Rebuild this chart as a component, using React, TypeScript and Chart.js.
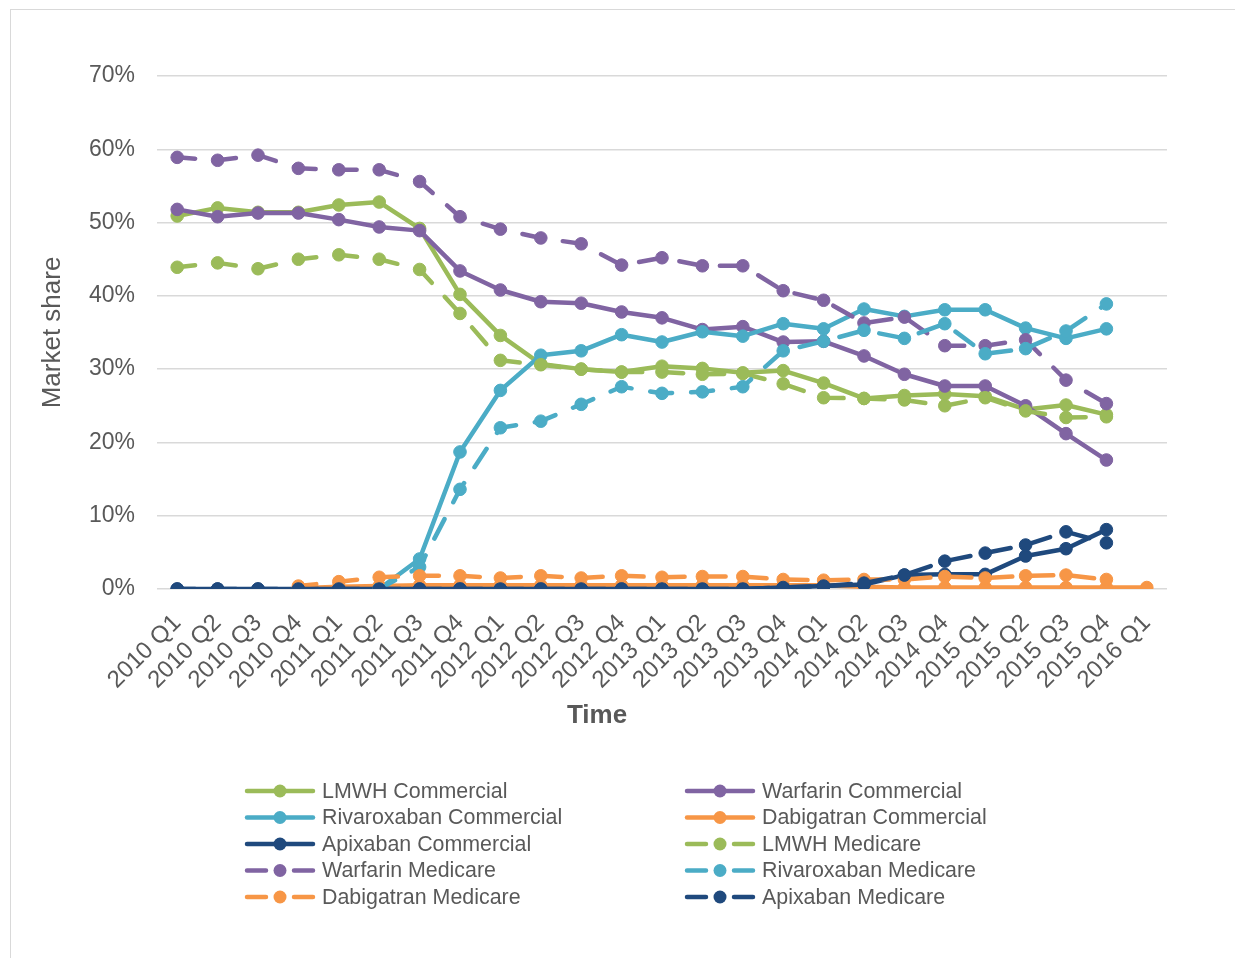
import React, { useEffect, useRef } from 'react';
import { Chart, registerables } from 'chart.js';

Chart.register(...registerables);

const FONT = '"Liberation Sans", Arial, Helvetica, sans-serif';
const TEXT = '#595959';

const quarters = [
  '2010 Q1', '2010 Q2', '2010 Q3', '2010 Q4',
  '2011 Q1', '2011 Q2', '2011 Q3', '2011 Q4',
  '2012 Q1', '2012 Q2', '2012 Q3', '2012 Q4',
  '2013 Q1', '2013 Q2', '2013 Q3', '2013 Q4',
  '2014 Q1', '2014 Q2', '2014 Q3', '2014 Q4',
  '2015 Q1', '2015 Q2', '2015 Q3', '2015 Q4',
  '2016 Q1',
];

const xAxisTitle = 'Time';
const yAxisTitle = 'Market share';

const lmwhCommercial = [50.9, 52.0, 51.4, 51.4, 52.4, 52.8, 49.2, 40.2, 34.6, 30.7, 30.0, 29.6, 30.4, 30.1, 29.5, 29.8, 28.1, 26.0, 26.4, 26.6, 26.3, 24.5, 25.1, 23.8, null];
const warfarinCommercial = [51.8, 50.8, 51.3, 51.3, 50.4, 49.4, 48.9, 43.4, 40.8, 39.2, 39.0, 37.8, 37.0, 35.4, 35.8, 33.7, 33.8, 31.8, 29.3, 27.7, 27.7, 25.0, 21.2, 17.6, null];
const rivaroxabanCommercial = [null, null, null, null, null, 0, 4.1, 18.7, 27.1, 31.9, 32.5, 34.7, 33.7, 35.1, 34.5, 36.2, 35.5, 38.2, 37.2, 38.1, 38.1, 35.6, 34.2, 35.5, null];
const dabigatranCommercial = [null, null, null, 0.1, 0.3, 0.4, 0.5, 0.5, 0.5, 0.5, 0.5, 0.5, 0.5, 0.5, 0.5, 0.5, 0.5, 0.3, 0.2, 0.2, 0.2, 0.2, 0.2, 0.2, 0.2];
const apixabanCommercial = [0, 0, 0, 0, 0, 0, 0, 0, 0, 0, 0, 0, 0, 0, 0, 0.2, 0.4, 0.6, 1.9, 2.0, 2.0, 4.5, 5.5, 8.1, null];
const lmwhMedicare = [43.9, 44.5, 43.7, 45.0, 45.6, 45.0, 43.6, 37.6, 31.2, 30.6, 30.0, 29.6, 29.6, 29.3, 29.4, 28.0, 26.1, 26.0, 25.8, 25.0, 26.1, 24.3, 23.4, 23.5, null];
const warfarinMedicare = [58.9, 58.5, 59.2, 57.4, 57.2, 57.2, 55.6, 50.8, 49.1, 47.9, 47.1, 44.2, 45.2, 44.1, 44.1, 40.7, 39.4, 36.3, 37.1, 33.2, 33.2, 34.0, 28.5, 25.3, null];
const rivaroxabanMedicare = [null, null, null, null, null, 0, 3.0, 13.6, 22.0, 22.9, 25.2, 27.6, 26.7, 26.9, 27.6, 32.5, 33.8, 35.3, 34.2, 36.2, 32.1, 32.8, 35.2, 38.9, null];
const dabigatranMedicare = [null, null, null, 0.4, 1.0, 1.6, 1.8, 1.8, 1.5, 1.8, 1.5, 1.8, 1.6, 1.7, 1.7, 1.3, 1.2, 1.3, 1.3, 1.7, 1.5, 1.8, 1.9, 1.3, null];
const apixabanMedicare = [0, 0, 0, 0, 0, 0, 0, 0, 0, 0, 0, 0, 0, 0, 0, 0.2, 0.4, 0.8, 1.9, 3.8, 4.9, 6.0, 7.8, 6.3, null];

const GREEN = '#9BBB59';
const PURPLE = '#8064A2';
const CYAN = '#4BACC6';
const ORANGE = '#F79646';
const NAVY = '#1F497D';

const seriesDefs: { label: string; data: (number | null)[]; color: string; dashed: boolean }[] = [
  { label: 'LMWH Commercial', data: lmwhCommercial, color: GREEN, dashed: false },
  { label: 'Warfarin Commercial', data: warfarinCommercial, color: PURPLE, dashed: false },
  { label: 'Rivaroxaban Commercial', data: rivaroxabanCommercial, color: CYAN, dashed: false },
  { label: 'Dabigatran Commercial', data: dabigatranCommercial, color: ORANGE, dashed: false },
  { label: 'Apixaban Commercial', data: apixabanCommercial, color: NAVY, dashed: false },
  { label: 'LMWH Medicare', data: lmwhMedicare, color: GREEN, dashed: true },
  { label: 'Warfarin Medicare', data: warfarinMedicare, color: PURPLE, dashed: true },
  { label: 'Rivaroxaban Medicare', data: rivaroxabanMedicare, color: CYAN, dashed: true },
  { label: 'Dabigatran Medicare', data: dabigatranMedicare, color: ORANGE, dashed: true },
  { label: 'Apixaban Medicare', data: apixabanMedicare, color: NAVY, dashed: true },
];

const LINE_W = 4.5;
const DASH = [22, 19];

const legendPlugin = {
  id: 'gridLegend',
  afterDraw(chart: any) {
    const ctx: CanvasRenderingContext2D = chart.ctx;
    // x-axis title (Excel places it left of the plot centre)
    ctx.save();
    ctx.fillStyle = TEXT;
    ctx.font = `bold 26px ${FONT}`;
    ctx.textAlign = 'center';
    ctx.textBaseline = 'middle';
    ctx.fillText(xAxisTitle, 597, 716);
    ctx.restore();

    chart.data.datasets.forEach((ds: any, i: number) => {
      const col = i % 2;
      const row = Math.floor(i / 2);
      const x0 = col === 0 ? 245 : 685;
      const y = 791 + row * 26.5;
      ctx.save();
      ctx.strokeStyle = ds.borderColor;
      ctx.lineWidth = LINE_W;
      ctx.lineCap = 'round';
      ctx.beginPath();
      if (ds.borderDash && ds.borderDash.length) {
        ctx.moveTo(x0 + 2, y);
        ctx.lineTo(x0 + 21, y);
        ctx.moveTo(x0 + 49, y);
        ctx.lineTo(x0 + 68, y);
      } else {
        ctx.moveTo(x0 + 2, y);
        ctx.lineTo(x0 + 68, y);
      }
      ctx.stroke();
      ctx.fillStyle = ds.borderColor;
      ctx.beginPath();
      ctx.arc(x0 + 35, y, 6.5, 0, Math.PI * 2);
      ctx.fill();
      ctx.fillStyle = TEXT;
      ctx.font = `21.4px ${FONT}`;
      ctx.textBaseline = 'middle';
      ctx.textAlign = 'left';
      ctx.fillText(ds.label, x0 + 77, y + 1);
      ctx.restore();
    });
  },
};

export default function App() {
  const ref = useRef<HTMLCanvasElement>(null);

  useEffect(() => {
    if (!ref.current) return;
    const datasets = seriesDefs.map((s, i) => ({
      label: s.label,
      data: s.data,
      borderColor: s.color,
      backgroundColor: s.color,
      pointBackgroundColor: s.color,
      pointBorderColor: s.color,
      pointBorderWidth: 1,
      pointRadius: 6.3,
      borderWidth: LINE_W,
      borderDash: s.dashed ? DASH : [],
      borderDashOffset: s.dashed ? 4 : 0,
      borderCapStyle: 'round' as CanvasLineCap,
      borderJoinStyle: 'round' as CanvasLineJoin,
      tension: 0,
      fill: false,
      order: 10 - i,
    }));

    const chart = new Chart(ref.current, {
      type: 'line',
      data: { labels: quarters, datasets },
      options: {
        animation: false,
        responsive: false,
        maintainAspectRatio: false,
        layout: { padding: { left: 30, right: 68, top: 76, bottom: 225 } },
        plugins: {
          legend: { display: false },
          tooltip: { enabled: false },
        },
        scales: {
          x: {
            type: 'category',
            offset: true,
            grid: { display: false, drawTicks: false },
            border: { display: false },
            ticks: {
              autoSkip: false,
              maxRotation: 45,
              minRotation: 45,
              padding: 20,
              color: TEXT,
              font: { family: FONT, size: 24 },
            },
            title: { display: false },
            afterFit: (s: any) => {
              s.height = 144;
            },
          },
          y: {
            min: 0,
            max: 70,
            ticks: {
              stepSize: 10,
              padding: 22,
              color: TEXT,
              font: { family: FONT, size: 23 },
              callback: (v: any) => `${v}%`,
            },
            grid: { color: '#d9d9d9', lineWidth: 1.5, drawTicks: false },
            border: { display: false },
            title: {
              display: true,
              text: yAxisTitle,
              color: TEXT,
              font: { family: FONT, size: 26 },
              padding: { top: 7, bottom: 0 },
            },
            afterFit: (s: any) => {
              s.width = 127;
            },
          },
        },
      } as any,
      plugins: [legendPlugin],
    });
    return () => chart.destroy();
  }, []);

  return (
    <div style={{ position: 'absolute', left: 0, top: 0, width: 1235, height: 958, overflow: 'hidden', background: '#fff' }}>
      <div style={{ position: 'absolute', left: 10, top: 9, width: 1300, height: 1000, border: '1.5px solid #d9d9d9' }} />
      <canvas ref={ref} width={1235} height={958} style={{ position: 'absolute', left: 0, top: 0, width: 1235, height: 958 }} />
    </div>
  );
}
